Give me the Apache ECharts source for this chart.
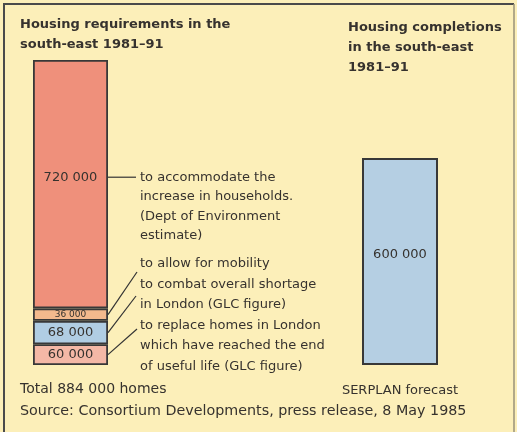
<!DOCTYPE html>
<html><head><meta charset="utf-8">
<script src="https://cdn.jsdelivr.net/npm/echarts@6/dist/echarts.min.js"></script>
<style>html,body{margin:0;padding:0;background:#fcefb9;}#c{width:517px;height:432px;}</style>
</head><body><div id="c"></div>
<script>
// Data
const reqCategories = ["Housing requirements in the south-east 1981–91"];
const compCategories = ["Housing completions in the south-east 1981–91"];
const reqSegments = ["replace homes", "combat shortage", "mobility", "household increase"];
const reqValues = [60000, 68000, 36000, 720000];
const reqLabels = ["60 000", "68 000", "36 000", "720 000"];
const compValues = [600000];
const compLabels = ["600 000"];
const reqNotes = [
  ["to replace homes in London", "which have reached the end", "of useful life (GLC figure)"],
  ["to combat overall shortage", "in London (GLC figure)"],
  ["to allow for mobility"],
  ["to accommodate the", "increase in households.", "(Dept of Environment", "estimate)"]
];
const totalValue = 884000;

const FONT = "'DejaVu Sans', sans-serif";
const TXT = "#36322e";
const reqColors = ["#f4b8a6", "#b0cde3", "#f3b98d", "#ef907b"];

const chart = echarts.init(document.getElementById('c'));
const gridTop = 60, gridBottom = 67;

const series = reqValues.map((v, i) => ({
  type: 'bar', name: reqSegments[i], stack: 'req', xAxisIndex: 0, yAxisIndex: 0,
  barWidth: '100%', data: [v],
  itemStyle: {color: reqColors[i], borderColor: '#383838', borderWidth: 1.8},
  label: {
    show: true, position: 'inside', formatter: reqLabels[i],
    fontFamily: FONT, color: TXT,
    fontSize: i === 2 ? 9 : 13,
    offset: i === 3 ? [0, -7] : [0, 0]
  },
  silent: true
}));
series.push({
  type: 'bar', name: 'SERPLAN forecast', xAxisIndex: 1, yAxisIndex: 1,
  barWidth: '100%', data: compValues,
  itemStyle: {color: '#b5cfe3', borderColor: '#383838', borderWidth: 2},
  label: {show: true, position: 'inside', formatter: compLabels[0], fontFamily: FONT, color: TXT, fontSize: 13, offset: [0, -7]},
  silent: true
});

const option = {
  backgroundColor: '#fcefb9',
  animation: false,
  grid: [
    {left: 33, width: 75, top: gridTop, bottom: gridBottom},
    {left: 362, width: 76, top: gridTop, bottom: gridBottom}
  ],
  xAxis: [
    {type: 'category', gridIndex: 0, data: reqCategories, show: false},
    {type: 'category', gridIndex: 1, data: compCategories, show: false}
  ],
  yAxis: [
    {type: 'value', gridIndex: 0, min: 0, max: totalValue, show: false},
    {type: 'value', gridIndex: 1, min: 0, max: totalValue, show: false}
  ],
  series: series
};
chart.setOption(option);

// annotations
const g = [];
const txtStyle = (x, y, text, opts) => Object.assign({
  type: 'text', x: x, y: y,
  style: Object.assign({text: text, fill: TXT, font: '13px ' + FONT, textVerticalAlign: 'middle'}, opts || {})
});
g.push({type: 'polyline', shape: {points: [[4, 432], [4, 4], [514, 4]]}, style: {stroke: '#4a4a4a', lineWidth: 2, fill: null}});
g.push({type: 'line', shape: {x1: 514, y1: 4, x2: 514, y2: 432}, style: {stroke: '#9a927a', lineWidth: 1.5}});
const TF = 'bold 13px ' + FONT;
g.push(txtStyle(20, 25, 'Housing requirements in the', {font: TF}));
g.push(txtStyle(20, 45, 'south-east 1981–91', {font: TF}));
g.push(txtStyle(348, 28, 'Housing completions', {font: TF}));
g.push(txtStyle(348, 48, 'in the south-east', {font: TF}));
g.push(txtStyle(348, 68, '1981–91', {font: TF}));
g.push(txtStyle(20, 389, 'Total 884 000 homes', {font: '14px ' + FONT}));
g.push(txtStyle(400, 391, 'SERPLAN forecast', {textAlign: 'center'}));
g.push(txtStyle(20, 411, 'Source: Consortium Developments, press release, 8 May 1985', {font: '14.3px ' + FONT}));

// leader lines computed from the scale
const barRight = 108;
const textX = 140;
let cum = 0;
const centers = reqValues.map(v => { const c = cum + v / 2; cum += v; return c; });
const px = v => chart.convertToPixel({gridIndex: 0}, [0, v])[1];
const yHH = px(centers[3]) - 7;
g.push({type: 'line', shape: {x1: barRight, y1: yHH, x2: 136, y2: yHH}, style: {stroke: '#333', lineWidth: 1.2}});
reqNotes[3].forEach((t, k) => g.push(txtStyle(textX, yHH + k * 19.5, t)));
const noteTop = 264, lh = 20.5;
const lines = [reqNotes[2][0], reqNotes[1][0], reqNotes[1][1], reqNotes[0][0], reqNotes[0][1], reqNotes[0][2]];
lines.forEach((t, k) => g.push(txtStyle(textX, noteTop + k * lh, t)));
const ends = [[137, 272], [136, 296], [137, 329]];
[2, 1, 0].forEach((idx, j) => {
  const y = px(centers[idx]);
  g.push({type: 'line', shape: {x1: barRight, y1: y, x2: ends[j][0], y2: ends[j][1]}, style: {stroke: '#333', lineWidth: 1.2}});
});
chart.setOption({graphic: g});
</script></body></html>
